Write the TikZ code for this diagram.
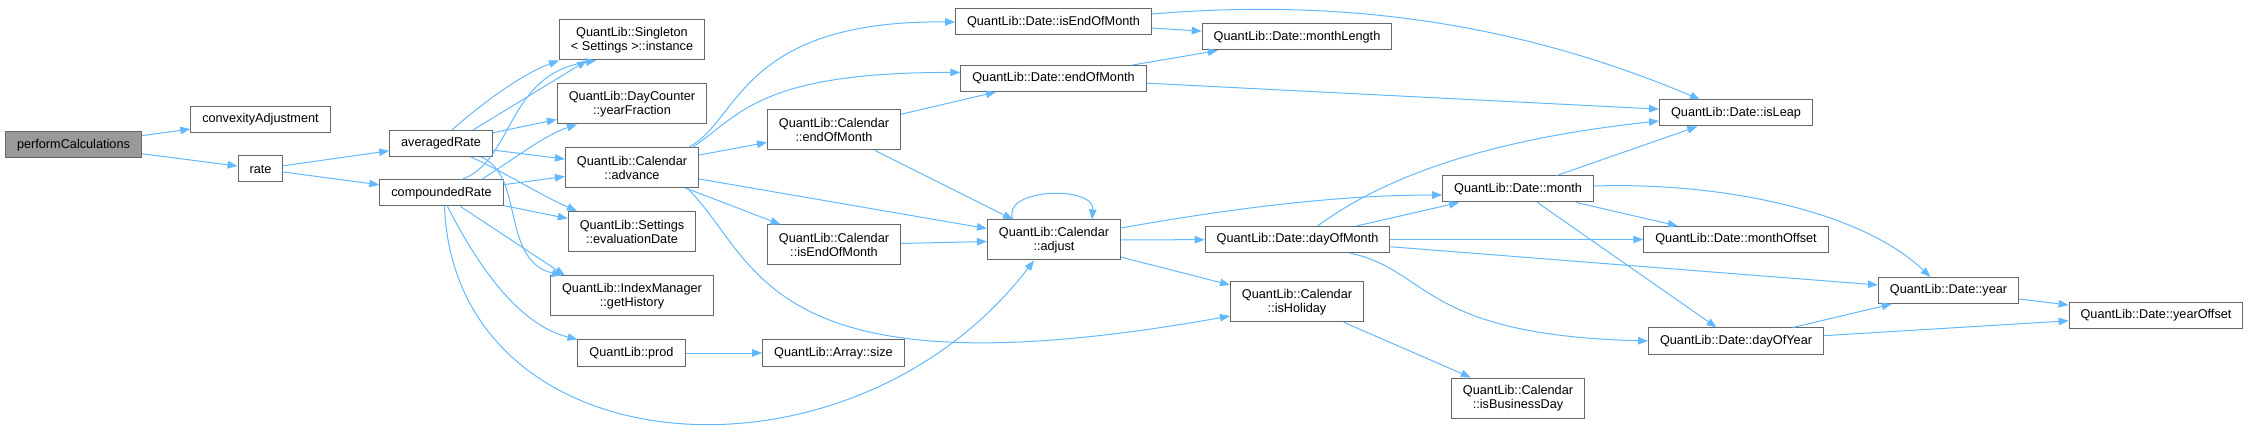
\documentclass[tikz,border=0pt]{standalone}
\usepackage{fontspec}
\setmainfont{Liberation Sans}
\usetikzlibrary{arrows.meta}

\definecolor{edgeblue}{HTML}{63B8FF}
\definecolor{boxgray}{HTML}{666666}
\definecolor{maingray}{HTML}{999999}

\tikzset{
  fn/.style={draw=boxgray, line width=1bp, fill=white, inner xsep=11.5bp,
    inner ysep=0pt, minimum height=26bp,
    font=\fontsize{12.7bp}{14bp}\selectfont},
  fntwo/.style={fn, align=center, minimum height=40bp},
  call/.style={draw=edgeblue, line width=1bp,
    -{Triangle[length=10bp,width=7.5bp]}}
}

\begin{document}
\begin{tikzpicture}[x=1bp,y=-1bp]
  \useasboundingbox (0,0) rectangle (2249,436);

  % Caller and its first calls
  \node[fn, fill=maingray] (perf) at (73.5,145) {performCalculations};
  \node[fn] (convadj) at (260.5,119.5) {convexityAdjustment};
  \node[fn] (rate) at (260.5,169) {rate};
  \node[fn] (avgrate) at (441,143.5) {averagedRate};
  \node[fn] (comprate) at (441.5,193) {compoundedRate};

  % Third column
  \node[fntwo] (singleton) at (632,40) {QuantLib::Singleton\\< Settings >::instance};
  \node[fntwo] (yearfrac) at (632,104) {QuantLib::DayCounter\\::yearFraction};
  \node[fntwo] (advance) at (632,167.5) {QuantLib::Calendar\\::advance};
  \node[fntwo] (evaldate) at (632,231.5) {QuantLib::Settings\\::evaluationDate};
  \node[fntwo] (gethist) at (632,296) {QuantLib::IndexManager\\::getHistory};
  \node[fn] (prod) at (631.5,353) {QuantLib::prod};

  % Calendar helpers
  \node[fntwo] (calendom) at (834,130) {QuantLib::Calendar\\::endOfMonth};
  \node[fntwo] (calisendom) at (834,245) {QuantLib::Calendar\\::isEndOfMonth};
  \node[fn] (arrsize) at (833.5,353) {QuantLib::Array::size};
  \node[fn] (dateisendom) at (1053.5,22) {QuantLib::Date::isEndOfMonth};
  \node[fn] (dateendom) at (1053.5,78.5) {QuantLib::Date::endOfMonth};
  \node[fntwo] (adjust) at (1054,240) {QuantLib::Calendar\\::adjust};

  % Date functions
  \node[fn] (monthlen) at (1297,37) {QuantLib::Date::monthLength};
  \node[fn] (dayofmonth) at (1297.5,239.5) {QuantLib::Date::dayOfMonth};
  \node[fntwo] (isholiday) at (1297,302) {QuantLib::Calendar\\::isHoliday};
  \node[fn] (month) at (1518,189) {QuantLib::Date::month};
  \node[fntwo] (isbizday) at (1518,398) {QuantLib::Calendar\\::isBusinessDay};
  \node[fn] (isleap) at (1736,113) {QuantLib::Date::isLeap};
  \node[fn] (monthoff) at (1736,239.5) {QuantLib::Date::monthOffset};
  \node[fn] (dayofyear) at (1736,341) {QuantLib::Date::dayOfYear};
  \node[fn] (year) at (1948.5,290.5) {QuantLib::Date::year};
  \node[fn] (yearoff) at (2156,315.5) {QuantLib::Date::yearOffset};

  % Straight calls
  \foreach \a/\b in {perf/convadj, perf/rate, rate/avgrate, rate/comprate,
      avgrate/yearfrac, avgrate/advance, comprate/advance, comprate/evaldate,
      prod/arrsize, advance/calendom, advance/adjust, advance/calisendom,
      calendom/dateendom, calendom/adjust, calisendom/adjust,
      adjust/dayofmonth, adjust/isholiday, dateisendom/monthlen,
      dateendom/monthlen, dateendom/isleap, dayofmonth/month,
      dayofmonth/monthoff, dayofmonth/year, month/isleap, month/monthoff,
      month/dayofyear, isholiday/isbizday, year/yearoff, dayofyear/yearoff,
      dayofyear/year}
    \draw[call] (\a) -- (\b);

  % Curved calls
  \draw[call] ([xshift=11bp]avgrate.north) .. controls (480,105) and (520,75) .. (singleton.south west);
  \draw[call] ([xshift=32bp]avgrate.north) -- ([xshift=-45bp]singleton.south);
  \draw[call] ([xshift=20bp]comprate.north) .. controls (515,160) and (505,75) .. ([xshift=-36bp]singleton.south);
  \draw[call] ([xshift=40bp]comprate.north) .. controls (520,155) and (545,135) .. ([xshift=-55bp]yearfrac.south);
  \draw[call] ([xshift=30bp]avgrate.south) .. controls (510,175) and (540,195) .. ([xshift=-55bp]evaldate.north);
  \draw[call] ([xshift=40bp]avgrate.south) .. controls (525,175) and (500,260) .. ([xshift=-70bp]gethist.north);
  \draw[call] ([xshift=19bp]comprate.south) -- ([xshift=-67bp]gethist.north);
  \draw[call] ([xshift=6bp]comprate.south) .. controls (480,270) and (520,325) .. (prod.north west);
  \draw[call] ([xshift=3bp]comprate.south) .. controls (455,470) and (850,500) .. ([xshift=-20bp]adjust.south);
  \draw[call] ([xshift=-10bp]advance.north east) .. controls (740,120) and (740,20) .. (dateisendom.west);
  \draw[call] ([xshift=-6bp]advance.north east) .. controls (740,115) and (760,72) .. ([yshift=6bp]dateendom.west);
  \draw[call] ([xshift=-12bp]advance.south east) .. controls (760,260) and (760,400) .. ([yshift=-14bp]isholiday.west);
  \draw[call] ([xshift=-41bp]adjust.north) .. controls (1000,188) and (1095,185) .. ([xshift=38bp]adjust.north);
  \draw[call] ([yshift=12bp]adjust.east) .. controls (1250,205) and (1350,195) .. ([yshift=-6bp]month.west);
  \draw[call] ([yshift=8bp]dateisendom.east) .. controls (1320,0) and (1500,15) .. ([xshift=-36bp]isleap.north);
  \draw[call] ([xshift=20bp]dayofmonth.north) .. controls (1380,180) and (1480,140) .. ([yshift=-8bp]isleap.west);
  \draw[call] ([xshift=52bp]dayofmonth.south) .. controls (1430,270) and (1420,335) .. (dayofyear.west);
  \draw[call] ([yshift=3bp]month.east) .. controls (1720,182) and (1860,210) .. ([xshift=-18bp]year.north);
\end{tikzpicture}
\end{document}
